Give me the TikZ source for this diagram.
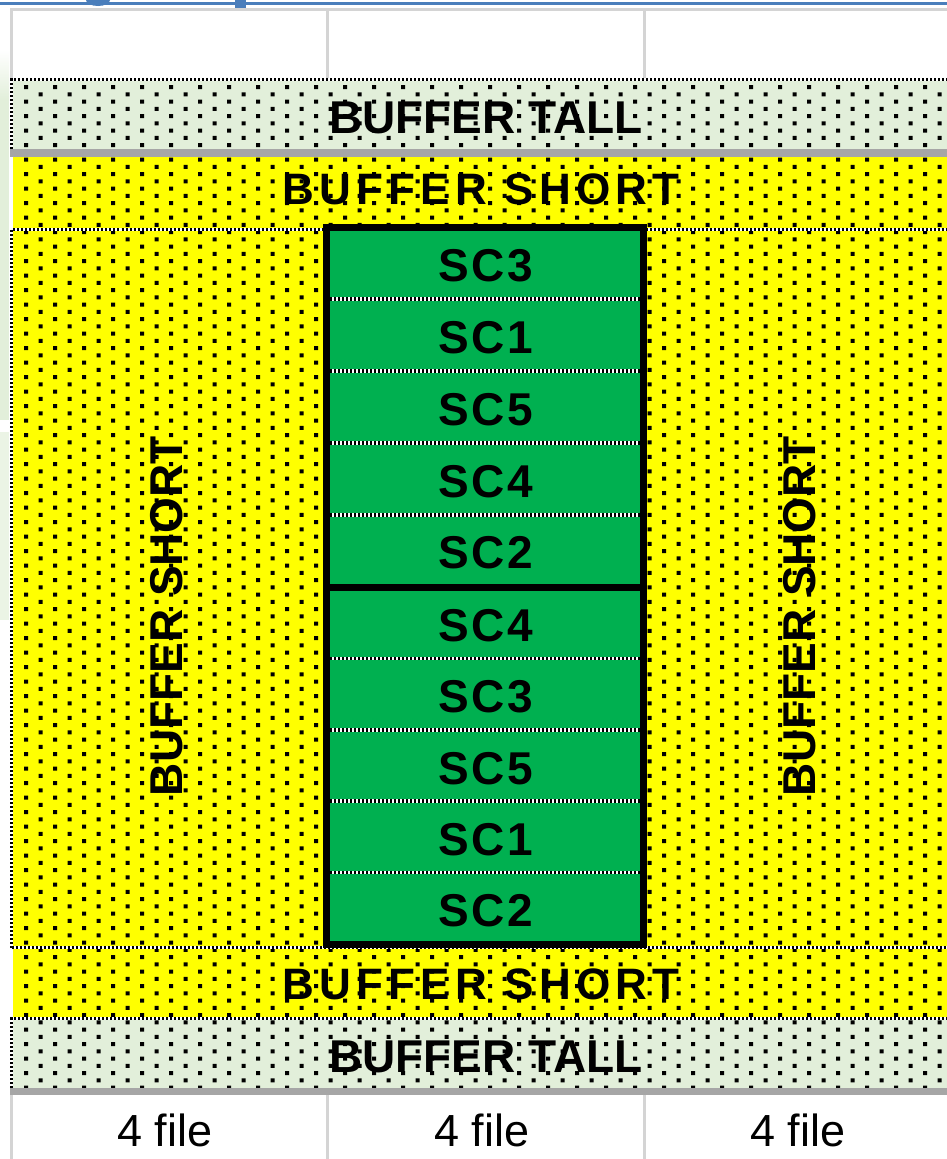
\documentclass[tikz,border=0pt]{standalone}
\usepackage{fontspec}
\setmainfont{Liberation Sans}
\newfontfamily\spacedA[LetterSpace=12]{Liberation Sans}
\newfontfamily\spacedB[LetterSpace=6]{Liberation Sans}
\definecolor{lgreen}{HTML}{E2EFDA}
\definecolor{yel}{HTML}{FFFF00}
\definecolor{scgreen}{HTML}{00B050}
\definecolor{bandgray}{HTML}{A6A6A6}
\definecolor{gridgray}{HTML}{D4D4D4}
\definecolor{titleblue}{HTML}{4A7EBB}
\begin{document}
\begin{tikzpicture}[x=1pt,y=-1pt,
  checker/.style={draw=white, line width=3.5pt, postaction={draw=black, line width=3.5pt, dash pattern=on 2pt off 2pt}},
  grid/.style={draw=gridgray, line width=3pt},
  talltxt/.style={font=\fontsize{46}{46}\selectfont\bfseries, inner sep=0pt},
  shorttxt/.style={font=\spacedA\fontsize{44}{44}\selectfont\bfseries, inner sep=0pt},
  vtxt/.style={font=\fontsize{46}{46}\selectfont\bfseries, inner sep=0pt, rotate=90},
  sctxt/.style={font=\spacedB\fontsize{46}{46}\selectfont\bfseries, inner sep=0pt},
  filetxt/.style={font=\fontsize{45}{45}\selectfont, inner sep=0pt}]
\useasboundingbox (0,0) rectangle (947,1159);
\fill[white] (0,0) rectangle (947,1159);
% title remnants
\draw[titleblue, line width=3pt] (0,3.5) -- (947,3.5);
\fill[titleblue] (98,0) ellipse [x radius=12pt, y radius=6pt];
\fill[titleblue] (235,0) rectangle (246,8);
% faint left strip
\shade[top color=white, bottom color=lgreen] (0,50) rectangle (9,100);
\fill[lgreen] (0,100) rectangle (9,420);
\fill[lgreen!70] (0,432) rectangle (9,620);
% header grid
\draw[grid] (10,9) -- (947,9);
\draw[grid] (11.5,9) -- (11.5,78);
\draw[grid] (327.5,9) -- (327.5,78);
\draw[grid] (644.5,9) -- (644.5,78);
% backgrounds
\fill[lgreen] (10,78) rectangle (947,149);
\fill[yel] (13,157) rectangle (947,228);
\fill[yel] (10,228) rectangle (947,947);
\fill[yel] (13,947) rectangle (947,1018);
\fill[lgreen] (10,1018) rectangle (947,1088);
% dots
\begin{scope}
\clip (13,81) rectangle (947,1088);
\fill[black]
  \foreach \i in {0,...,32} { \foreach \j in {0,...,69} {
    ({26+29*\i-2},{87+14.5*\j-2}) rectangle ++(4,4)
    ({40.5+29*\i-2},{94.25+14.5*\j-2}) rectangle ++(4,4) } };
\end{scope}
% gray bands
\fill[bandgray] (10,149) rectangle (947,157);
\fill[bandgray] (10,1088) rectangle (947,1095);
% checkered borders
\draw[checker] (11.5,149) -- (11.5,79.5) -- (947,79.5);
\draw[checker] (11.5,947.5) -- (11.5,229.5) -- (947,229.5);
\draw[checker] (11.5,947.5) -- (947,947.5);
\draw[checker] (11.5,1088) -- (11.5,1018.5) -- (947,1018.5);
% bottom grid
\draw[grid] (11.5,1095) -- (11.5,1159);
\draw[grid] (327.5,1095) -- (327.5,1159);
\draw[grid] (644.5,1095) -- (644.5,1159);
% green column
\fill[scgreen] (326.5,227) rectangle (643.5,944);
\foreach \y in {299,371,443,515,658.4,729.8,801.2,872.6}
  \draw[checker] (330,\y) -- (640,\y);
\node[sctxt] (s1) at (486,266) {SC3};
\node[sctxt] (s2) at (486,338) {SC1};
\node[sctxt] (s3) at (486,410) {SC5};
\node[sctxt] (s4) at (486,482) {SC4};
\node[sctxt] (s5) at (486,553) {SC2};
\node[sctxt] (s6) at (486,626) {SC4};
\node[sctxt] (s7) at (486,697) {SC3};
\node[sctxt] (s8) at (486,769) {SC5};
\node[sctxt] (s9) at (486,840) {SC1};
\node[sctxt] (s10) at (486,911) {SC2};
\draw[black, line width=7pt] (326.5,227) rectangle (643.5,944);
\draw[black, line width=7pt] (326.5,587) -- (643.5,587);
% labels
\node[talltxt] (tallT) at (486,118) {BUFFER TALL};
\node[shorttxt] (shortT) at (481,189) {BUFFER SHORT};
\node[vtxt] (shortL) at (167,616) {BUFFER SHORT};
\node[vtxt] (shortR) at (800,616) {BUFFER SHORT};
\node[shorttxt] (shortB) at (481,984) {BUFFER SHORT};
\node[talltxt] (tallB) at (486,1057) {BUFFER TALL};
\node[filetxt] (f1) at (165,1130) {4 file};
\node[filetxt] (f2) at (482,1130) {4 file};
\node[filetxt] (f3) at (798,1130) {4 file};
\end{tikzpicture}
\end{document}
